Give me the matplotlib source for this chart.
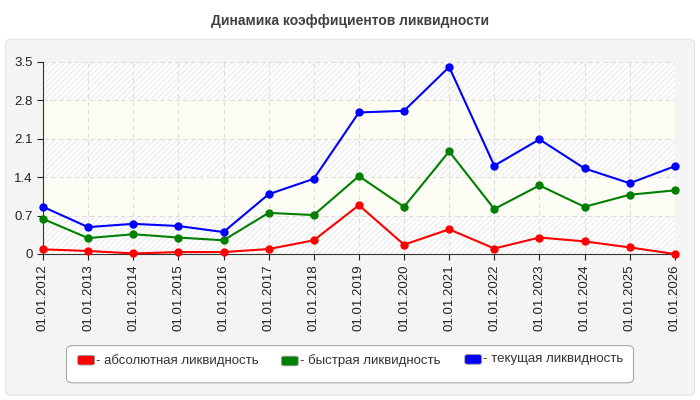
import matplotlib
matplotlib.use('Agg')
import matplotlib.pyplot as plt
from matplotlib.patches import FancyBboxPatch, Rectangle

dates = ['01.01.2012', '01.01.2013', '01.01.2014', '01.01.2015', '01.01.2016',
         '01.01.2017', '01.01.2018', '01.01.2019', '01.01.2020', '01.01.2021',
         '01.01.2022', '01.01.2023', '01.01.2024', '01.01.2025', '01.01.2026']
absolute = [0.085, 0.055, 0.01, 0.035, 0.035, 0.09, 0.25, 0.89, 0.17, 0.45,
            0.10, 0.30, 0.23, 0.12, 0.0]
quick = [0.64, 0.29, 0.36, 0.30, 0.25, 0.75, 0.71, 1.42, 0.86, 1.87,
         0.82, 1.25, 0.86, 1.08, 1.16]
current = [0.86, 0.49, 0.55, 0.51, 0.40, 1.09, 1.37, 2.58, 2.61, 3.41,
           1.61, 2.09, 1.56, 1.29, 1.60]
series_names = ['- абсолютная ликвидность', '- быстрая ликвидность', '- текущая ликвидность']
colors = ['#ff0000', '#008000', '#0000ff']
yticks = [0, 0.7, 1.4, 2.1, 2.8, 3.5]

plt.rcParams['font.family'] = ['Liberation Sans', 'DejaVu Sans']

fig = plt.figure(figsize=(7, 4), dpi=100)
fig.patch.set_facecolor('white')

# outer panel
panel = FancyBboxPatch((0.008, 0.012), 0.984, 0.89, boxstyle='round,pad=0,rounding_size=0.01',
                       transform=fig.transFigure, facecolor='#f4f4f4', edgecolor='#e2e2e2',
                       linewidth=0.8, zorder=-10)
fig.patches.append(panel)

fig.text(0.5, 0.948, 'Динамика коэффициентов ликвидности', ha='center', va='center',
         fontsize=10, fontweight='bold', color='#404040')

ax = fig.add_axes([0.0614, 0.365, 0.9026, 0.48])
ax.set_facecolor('white')
x = list(range(len(dates)))

# alternating bands
for i in range(len(yticks) - 1):
    if i % 2 == 0:
        ax.add_patch(Rectangle((0, yticks[i]), len(dates) - 1, yticks[i + 1] - yticks[i],
                               facecolor='white', edgecolor='#eeeeee', hatch='//////',
                               linewidth=0, zorder=0))
    else:
        ax.axhspan(yticks[i], yticks[i + 1], facecolor='#fdfdf6', zorder=0)

for vals, c, name in zip([absolute, quick, current], colors, series_names):
    ax.plot(x, vals, color=c, linewidth=1.5, marker='o', markersize=5, label=name,
            zorder=3, clip_on=False)

ax.set_xlim(0, len(dates) - 1)
ax.set_ylim(0, 3.5)
ax.set_yticks(yticks)
ax.set_yticklabels(['0', '0.7', '1.4', '2.1', '2.8', '3.5'])
ax.set_xticks(x)
ax.set_xticklabels(dates, rotation=90)
ax.tick_params(axis='both', labelsize=9.5, colors='#222222', length=4, width=0.8)
ax.grid(True, color='#dddddd', linestyle=(0, (4, 3)), linewidth=0.8, zorder=1)
ax.spines['top'].set_visible(False)
ax.spines['right'].set_visible(False)
ax.spines['left'].set_color('#333333')
ax.spines['bottom'].set_color('#333333')

# legend box
legbox = FancyBboxPatch((0.095, 0.043), 0.81, 0.093, boxstyle='round,pad=0,rounding_size=0.01',
                        transform=fig.transFigure, facecolor='white', edgecolor='#aaaaaa',
                        linewidth=0.8, zorder=1)
fig.patches.append(legbox)
legend_x = [0.111, 0.402, 0.664]
legend_y = [0.0995, 0.0975, 0.1015]
for lx, ly, c, name in zip(legend_x, legend_y, colors, series_names):
    fig.patches.append(FancyBboxPatch((lx, ly - 0.012), 0.024, 0.024,
                                      boxstyle='round,pad=0,rounding_size=0.004',
                                      transform=fig.transFigure, facecolor=c,
                                      edgecolor='#999999', linewidth=0.6, zorder=2))
    fig.text(lx + 0.026, ly, name, ha='left', va='center', fontsize=9.5, color='#333333')

fig.savefig('out.png', dpi=100)
